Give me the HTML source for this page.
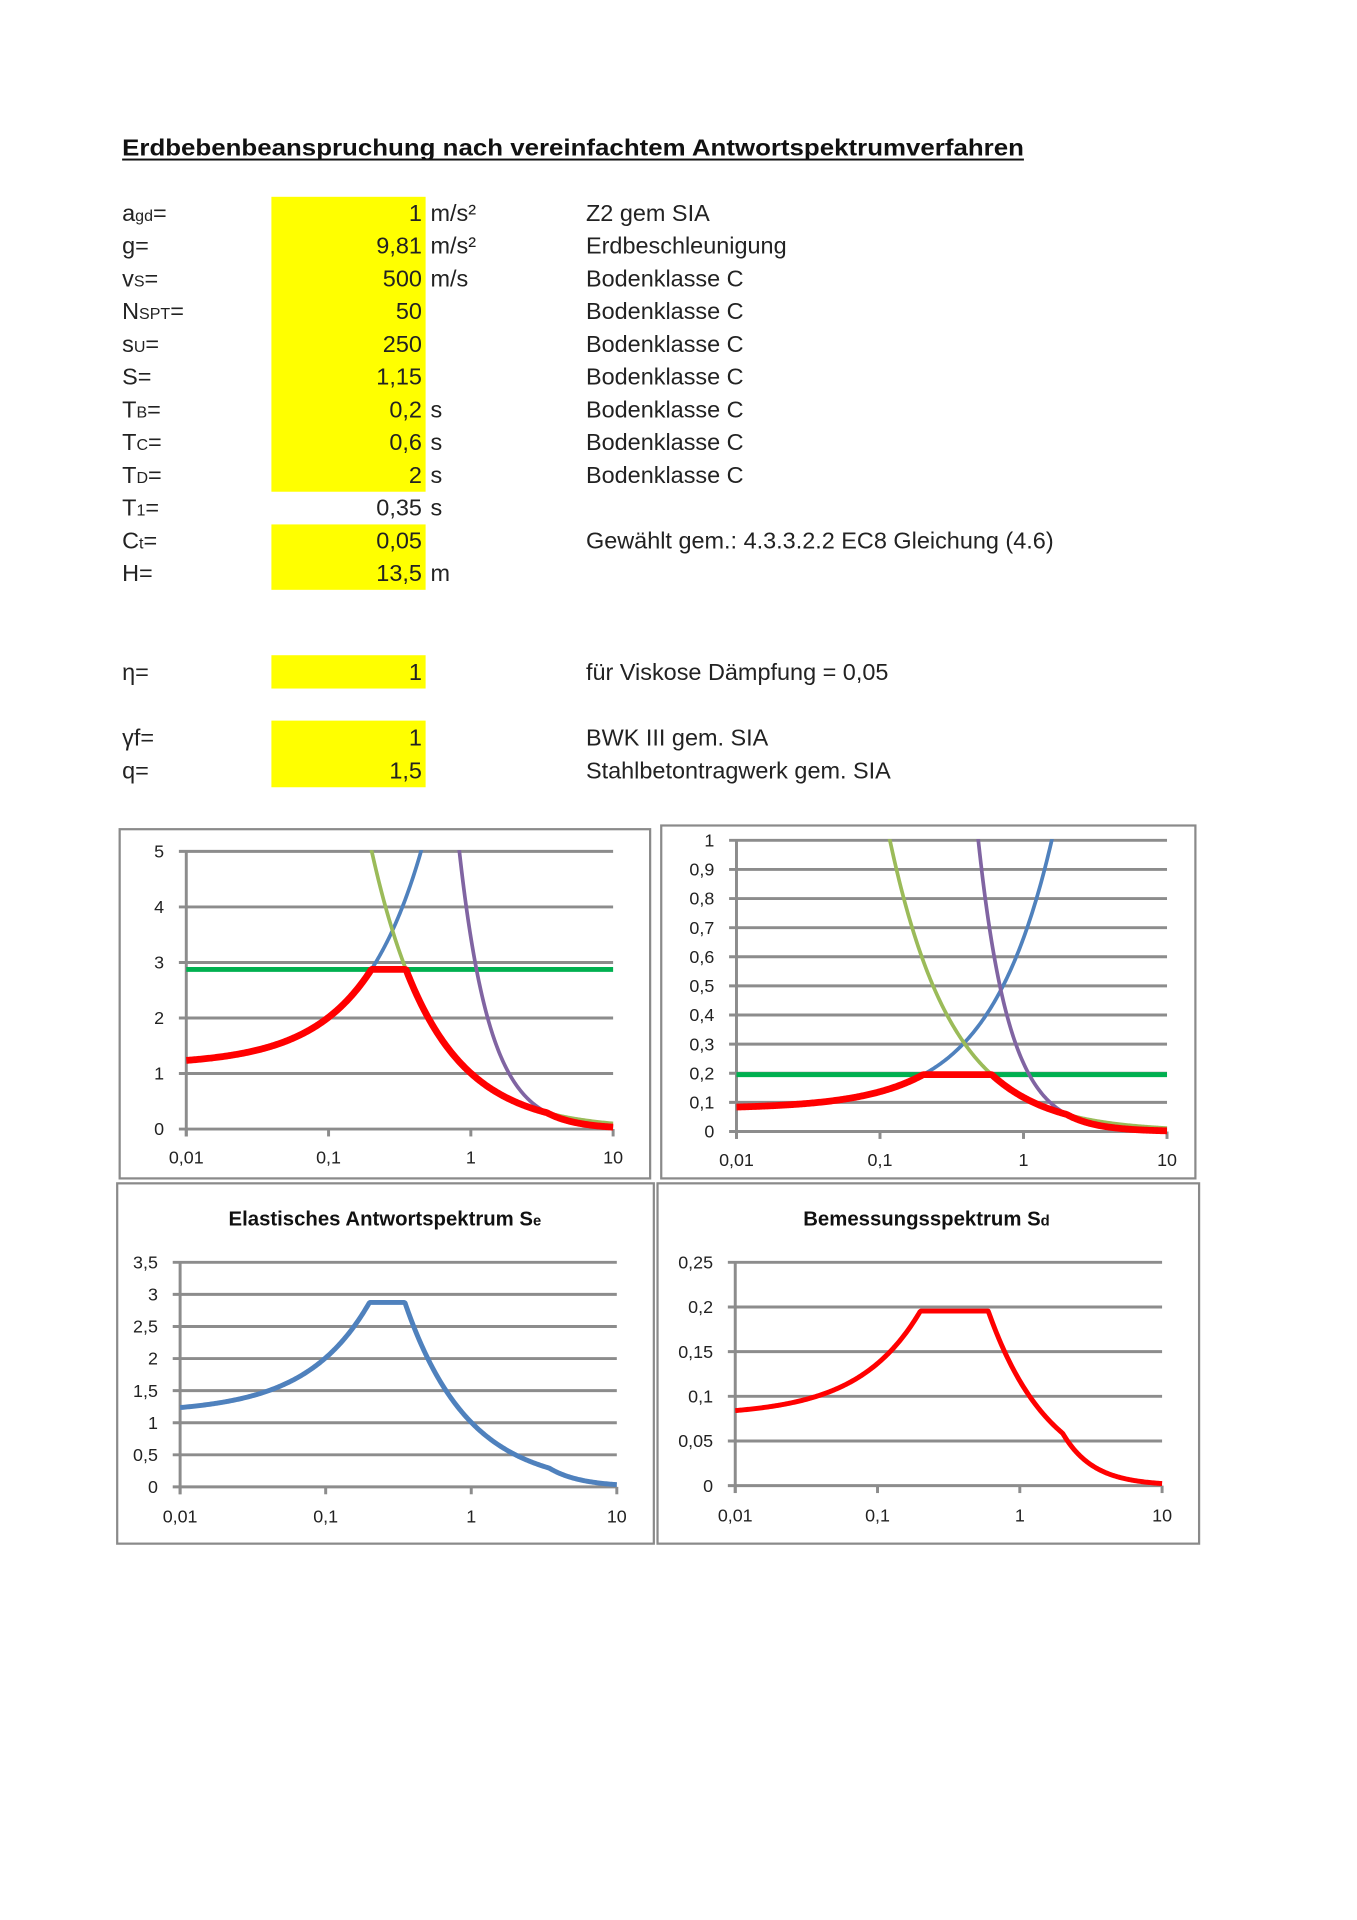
<!DOCTYPE html>
<html><head><meta charset="utf-8"><style>
html,body{margin:0;padding:0;background:#fff}
svg{display:block}
text{font-family:"Liberation Sans",sans-serif}
</style></head><body>
<svg id="s" width="1357" height="1920" viewBox="0 0 1100 1556" preserveAspectRatio="none" xmlns="http://www.w3.org/2000/svg">
<rect x="0" y="0" width="1100" height="1556" fill="#fff"/>
<text x="99" y="126" font-size="19" font-weight="bold" fill="#111" textLength="731" lengthAdjust="spacingAndGlyphs">Erdbebenbeanspruchung nach vereinfachtem Antwortspektrumverfahren</text>
<rect x="99" y="128.5" width="731" height="1.6" fill="#111"/>
<g fill="#ffff00">
<rect x="220" y="159.5" width="125" height="239"/>
<rect x="220" y="425" width="125" height="53"/>
<rect x="220" y="531" width="125" height="27"/>
<rect x="220" y="584" width="125" height="54"/>
</g>
<g id="tbl" font-size="19" fill="#222"></g>
<g id="charts"></g>
</svg>
<script>
var NS="http://www.w3.org/2000/svg";
function el(p,n,a,t){var e=document.createElementNS(NS,n);for(var k in a)e.setAttribute(k,a[k]);if(t!=null)e.textContent=t;p.appendChild(e);return e;}
var tbl=document.getElementById('tbl');
var rows=[["a","gd","=","1","m/s²","Z2 gem SIA"],["g","","=","9,81","m/s²","Erdbeschleunigung"],["v","S","=","500","m/s","Bodenklasse C"],["N","SPT","=","50","","Bodenklasse C"],["s","U","=","250","","Bodenklasse C"],["S","","=","1,15","","Bodenklasse C"],["T","B","=","0,2","s","Bodenklasse C"],["T","C","=","0,6","s","Bodenklasse C"],["T","D","=","2","s","Bodenklasse C"],["T","1","=","0,35","s",""],["C","t","=","0,05","","Gewählt gem.: 4.3.3.2.2 EC8 Gleichung (4.6)"],["H","","=","13,5","m",""]];
function row(r,y){
 var t=el(tbl,'text',{x:99,y:y});
 el(t,'tspan',{},r[0]);
 if(r[1])el(t,'tspan',{'font-size':13},r[1]);
 el(t,'tspan',{},r[2]);
 el(tbl,'text',{x:342,y:y,'text-anchor':'end'},r[3]);
 if(r[4])el(tbl,'text',{x:349,y:y},r[4]);
 if(r[5])el(tbl,'text',{x:475,y:y},r[5]);
}
for(var i=0;i<rows.length;i++)row(rows[i],179+i*26.55);
row(["η","","=","1","","für Viskose Dämpfung = 0,05"],551);
row(["γf","","=","1","","BWK III gem. SIA"],604);
row(["q","","=","1,5","","Stahlbetontragwerk gem. SIA"],631);

var C=document.getElementById('charts');
function chart(o){
 el(C,'rect',{x:o.bx,y:o.by,width:o.bw,height:o.bh,fill:'none',stroke:'#8a8a8a','stroke-width':1.8});
 if(o.title){var t=el(C,'text',{x:o.tx,y:o.ty,'text-anchor':'middle','font-size':16.5,'font-weight':'bold',fill:'#111'});el(t,'tspan',{},o.title);el(t,'tspan',{'font-size':12},o.sub);}
 var n=o.ylab.length-1;
 for(var i=0;i<=n;i++){var y=o.y0+(o.y1-o.y0)*i/n;
  el(C,'line',{x1:o.x0-6,x2:o.x1,y1:y,y2:y,stroke:'#8c8c8c','stroke-width':2.4});
  el(C,'text',{x:o.x0-18,y:y+5,'text-anchor':'end','font-size':14.5,fill:'#222'},o.ylab[i]);}
 el(C,'line',{x1:o.x0,x2:o.x0,y1:o.y1,y2:o.y0+6,stroke:'#8c8c8c','stroke-width':2.4});
 var xl=["0,01","0,1","1","10"];
 for(var j=0;j<4;j++){var x=o.x0+(o.x1-o.x0)*j/3;
  el(C,'line',{x1:x,x2:x,y1:o.y0,y2:o.y0+6,stroke:'#8c8c8c','stroke-width':2.4});
  el(C,'text',{x:x,y:o.ly,'text-anchor':'middle','font-size':14.5,fill:'#222'},xl[j]);}
 var id='c'+Math.round(o.bx)+Math.round(o.by);
 var cp=el(C,'clipPath',{id:id});el(cp,'rect',{x:o.x0-5,y:o.y1-1,width:o.x1-o.x0+10,height:o.y0-o.y1+6});
 var g=el(C,'g',{'clip-path':'url(#'+id+')'});
 o.series.forEach(function(s){
  var d="";
  for(var k=0;k<=400;k++){var lg=-2+3*k/400,T=Math.pow(10,lg),v=s.f(T);
   var x=o.x0+(o.x1-o.x0)*k/400,y=o.y0-(o.y0-o.y1)*v/o.ymax;
   if(y<o.y1-200)y=o.y1-200;
   d+=(k?"L":"M")+x.toFixed(2)+" "+y.toFixed(2);}
  el(g,'path',{d:d,fill:'none',stroke:s.c,'stroke-width':s.w,'stroke-linejoin':'round'});
 });
}
var b1=function(T){return 1.15*(1+7.5*T)},g1=function(T){return 1.006/T},p1=function(T){return 3.45/T/T},h1=function(){return 2.875};
var r1=function(T){return Math.min(b1(T),g1(T),p1(T),2.875)};
chart({bx:97,by:672,bw:430,bh:283,x0:151,x1:497,y0:915,y1:690,ymax:5,ylab:["0","1","2","3","4","5"],ly:943,
 series:[{f:h1,c:'#00b050',w:4},{f:b1,c:'#4f81bd',w:3},{f:g1,c:'#9bbb59',w:3},{f:p1,c:'#8064a2',w:3},{f:r1,c:'#ff0000',w:5.5}]});
var P=0.1954;
var b2=function(T){return 1.15/9.81*(0.6667+5*T)},g2=function(T){return P*0.6/T},p2=function(T){return P*1.2/T/T},h2=function(){return P};
var r2=function(T){return Math.min(b2(T),g2(T),p2(T),P)};
chart({bx:536,by:669,bw:433,bh:286,x0:597,x1:946,y0:917,y1:681,ymax:1,ylab:["0","0,1","0,2","0,3","0,4","0,5","0,6","0,7","0,8","0,9","1"],ly:945,
 series:[{f:h2,c:'#00b050',w:4},{f:b2,c:'#4f81bd',w:3},{f:g2,c:'#9bbb59',w:3},{f:p2,c:'#8064a2',w:3},{f:r2,c:'#ff0000',w:5.5}]});
chart({bx:95,by:959,bw:435,bh:292,x0:146,x1:500,y0:1205,y1:1023,ymax:3.5,ylab:["0","0,5","1","1,5","2","2,5","3","3,5"],ly:1234,
 title:"Elastisches Antwortspektrum S",sub:"e",tx:312,ty:993,series:[{f:r1,c:'#4f81bd',w:4}]});
chart({bx:533,by:959,bw:439,bh:292,x0:596,x1:942,y0:1204,y1:1023,ymax:0.25,ylab:["0","0,05","0,1","0,15","0,2","0,25"],ly:1233,
 title:"Bemessungsspektrum S",sub:"d",tx:751,ty:993,series:[{f:r2,c:'#ff0000',w:4}]});
</script>
</body></html>
